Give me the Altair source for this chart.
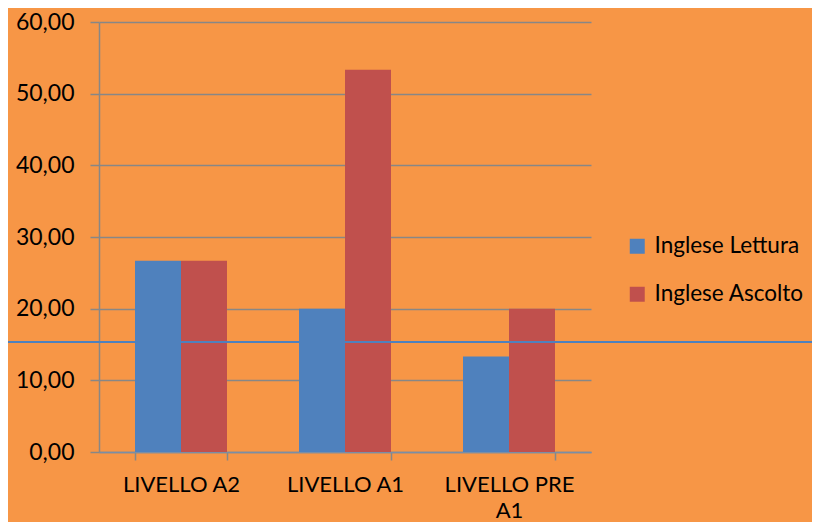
import altair as alt
import pandas as pd

categories = ["LIVELLO A2", "LIVELLO A1", "LIVELLO  PRE A1"]
series = ["Inglese Lettura", "Inglese Ascolto"]
lettura = [26.67, 20.00, 13.33]
ascolto = [26.67, 53.33, 20.00]
y_ticks = [0, 10, 20, 30, 40, 50, 60]

rows = []
for c, a, b in zip(categories, lettura, ascolto):
    rows.append({"cat": c, "serie": series[0], "val": a})
    rows.append({"cat": c, "serie": series[1], "val": b})
df = pd.DataFrame(rows)

W, H = 492, 430
PL, PT = 91, 14
PR = 804 - PL - W
PB = 514 - PT - H
FONT = "Lato"
GREY = "#878787"

bars = alt.Chart(df).mark_bar().encode(
    x=alt.X("cat:N", sort=categories, title=None,
            scale=alt.Scale(paddingInner=0.439, paddingOuter=0.2195),
            axis=alt.Axis(labelAngle=0, labelFontSize=22, labelFont=FONT, labelColor="#000000",
                          labelPadding=14, tickBand="extent", tickSize=8, tickColor=GREY,
                          domainColor="#7a8ea6", domainWidth=1.5, tickWidth=1.5,
                          labelExpr="datum.label == 'LIVELLO  PRE A1' ? ['LIVELLO  PRE', 'A1'] : datum.label",
                          labelLineHeight=26)),
    xOffset=alt.XOffset("serie:N", sort=series,
                        scale=alt.Scale(paddingInner=0, paddingOuter=0)),
    y=alt.Y("val:Q", title=None,
            scale=alt.Scale(domain=[0, 60], nice=False),
            axis=alt.Axis(values=y_ticks, labelFontSize=23, labelFont=FONT, labelColor="#000000",
                          labelPadding=16, tickSize=9, tickColor=GREY, tickWidth=1.5,
                          domainColor=GREY, domainWidth=1.5,
                          grid=True, gridColor=GREY, gridWidth=1.5,
                          labelExpr="replace(format(datum.value, '.2f'), '.', ',')")),
    color=alt.Color("serie:N", sort=series,
                    scale=alt.Scale(domain=series, range=["#4F81BD", "#C0504D"]),
                    legend=alt.Legend(title=None, orient="none", legendX=527, legendY=213,
                                      symbolType="square", symbolSize=225, symbolStrokeWidth=0,
                                      labelFontSize=22.5, labelFont=FONT, labelColor="#000000",
                                      rowPadding=25, labelOffset=6)),
)

line = alt.Chart(pd.DataFrame({"k": [0]})).mark_rule(color="#4F81BD", strokeWidth=2, clip=False).encode(
    x=alt.value(-PL), x2=alt.value(W + PR), y=alt.value(320)
)

chart = alt.layer(bars, line).properties(
    width=W, height=H,
    background="#F79646",
    padding={"left": PL, "top": PT, "right": PR, "bottom": PB},
    autosize=alt.AutoSizeParams(type="none"),
).configure_view(stroke=None)

chart.save("out.html", embed_options={"renderer": "svg", "actions": False})
